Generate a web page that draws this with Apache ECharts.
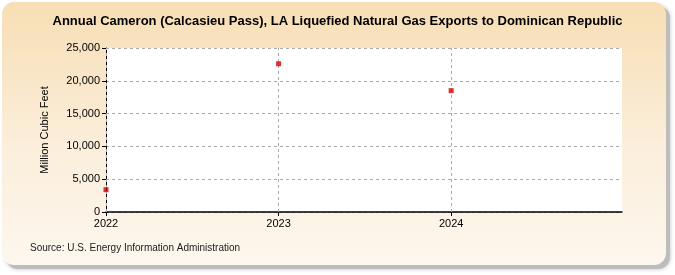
<!DOCTYPE html>
<html><head><meta charset="utf-8">
<script src="https://cdn.jsdelivr.net/npm/echarts@6/dist/echarts.min.js"></script>
<style>html,body{margin:0;padding:0;background:#fff}#c{width:675px;height:275px}</style>
</head><body><div id="c"></div>
<script>
const years = [2022, 2023, 2024];
const values = [3400, 22600, 18500];
const yTicks = [0, 5000, 10000, 15000, 20000, 25000];
const title = 'Annual Cameron (Calcasieu Pass), LA Liquefied Natural Gas Exports to Dominican Republic';
const yName = 'Million Cubic Feet';
const source = 'Source: U.S. Energy Information Administration';

const chart = echarts.init(document.getElementById('c'));
chart.setOption({
  animation: false,
  backgroundColor: '#ffffff',
  graphic: [
    {type:'rect', z:-10, shape:{x:6,y:6,width:664,height:263,r:12}, style:{fill:'#bdbdbd', shadowBlur:4, shadowColor:'rgba(0,0,0,0.25)'}},
    {type:'rect', z:-9, shape:{x:2,y:2,width:664,height:263,r:12},
     style:{fill:{type:'linear',x:0,y:0,x2:0,y2:1,colorStops:[{offset:0,color:'#f7deb4'},{offset:0.55,color:'#fbeedb'},{offset:1,color:'#fdf7ee'}]}}},
    {type:'text', left:'center', top:15, style:{text:title, font:'bold 13px "Liberation Sans Narrow", "Liberation Sans", Arial', fill:'#000'}},
    {type:'text', left:30, top:243, style:{text:source, font:'10px "Liberation Sans", Arial', fill:'#222'}}
  ],
  grid: {left:106, right:53, top:48, bottom:63, backgroundColor:'#fff', show:true, borderWidth:0, borderColor:'transparent'},
  xAxis: {
    type:'value', min:2022, max:2024.99, interval:1,
    axisLine:{show:true, onZero:false, lineStyle:{color:'#000', width:1.5}},
    axisTick:{show:true, length:4, customValues:years, lineStyle:{color:'#000'}},
    axisLabel:{color:'#000', fontSize:11, fontFamily:'"Liberation Sans", Arial', margin:6,
      customValues:years, formatter: v => String(Math.round(v))},
    splitLine:{show:false}
  },
  yAxis: {
    type:'value', min:yTicks[0], max:yTicks[yTicks.length-1], interval:5000,
    name: yName, nameLocation:'middle', nameGap:56, nameRotate:90,
    nameTextStyle:{color:'#000', fontSize:11, fontFamily:'"Liberation Sans", Arial'},
    axisLine:{show:true, lineStyle:{color:'#000', width:1}},
    axisTick:{show:true, length:4, lineStyle:{color:'#000'}},
    axisLabel:{color:'#000', fontSize:11, fontFamily:'"Liberation Sans", Arial', margin:6,
      formatter: v => v.toLocaleString('en-US')},
    splitLine:{show:true, lineStyle:{color:'#aaa', type:[3,3]}}
  },
  series: [{
    type:'scatter', symbol:'rect', symbolSize:5,
    itemStyle:{color:'#d40000'}, z:5,
    data: years.map((y,i)=>[y, values[i]]),
    markLine: {
      silent:true, symbol:'none', label:{show:false}, z:1,
      lineStyle:{color:'#aaa', type:[3,3], width:1},
      data: years.map(y => ({xAxis: y}))
    }
  }]
});
</script></body></html>
